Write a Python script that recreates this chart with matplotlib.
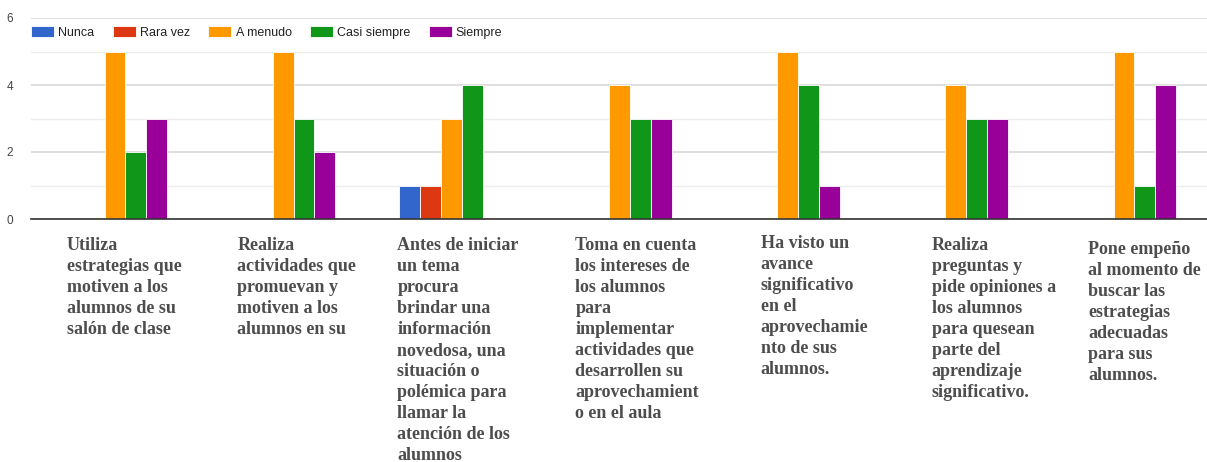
import matplotlib
matplotlib.use("Agg")
import matplotlib.pyplot as plt
import matplotlib.transforms as mtrans
import numpy as np

categories = [
    "Utiliza\nestrategias que\nmotiven a los\nalumnos de su\nsalón de clase",
    "Realiza\nactividades que\npromuevan y\nmotiven a los\nalumnos en su",
    "Antes de iniciar\nun tema\nprocura\nbrindar una\ninformación\nnovedosa, una\nsituación o\npolémica para\nllamar la\natención de los\nalumnos",
    "Toma en cuenta\nlos intereses de\nlos alumnos\npara\nimplementar\nactividades que\ndesarrollen su\naprovechamient\no en el aula",
    "Ha visto un\navance\nsignificativo\nen el\naprovechamie\nnto de sus\nalumnos.",
    "Realiza\npreguntas y\npide opiniones a\nlos alumnos\npara quesean\nparte del\naprendizaje\nsignificativo.",
    "Pone empeño\nal momento de\nbuscar las\nestrategias\nadecuadas\npara sus\nalumnos.",
]
series_names = ["Nunca", "Rara vez", "A menudo", "Casi siempre", "Siempre"]
nunca = [0, 0, 1, 0, 0, 0, 0]
rara_vez = [0, 0, 1, 0, 0, 0, 0]
a_menudo = [5, 5, 3, 4, 5, 4, 5]
casi_siempre = [2, 3, 4, 3, 4, 3, 1]
siempre = [3, 2, 0, 3, 1, 3, 4]
y_ticks = [0, 2, 4, 6]

colors = ["#3366cc", "#dc3912", "#ff9900", "#109618", "#990099"]
series = [nunca, rara_vez, a_menudo, casi_siempre, siempre]

W, H = 1207, 462
fig = plt.figure(figsize=(W / 100, H / 100), dpi=100)
ax = fig.add_axes([31 / W, 1 - 219 / H, 1177 / W, (219 - 18) / H])

x = np.arange(len(categories))
bw = 0.124
for i, (name, vals, c) in enumerate(zip(series_names, series, colors)):
    ax.bar(x + (i - 2) * bw, vals, width=bw, color=c, edgecolor="white",
           linewidth=0.6, label=name, zorder=3)

ax.set_xlim(-0.5, len(categories) - 0.5)
ax.set_ylim(0, 6)
ax.set_yticks(y_ticks)
ax.set_yticks([1, 3, 5], minor=True)
ax.grid(axis="y", which="major", color="#d9d9d9", linewidth=1.2, zorder=0)
ax.grid(axis="y", which="minor", color="#ececec", linewidth=1.0, zorder=0)
ax.tick_params(axis="y", which="both", length=0, labelsize=8.5, labelcolor="#444444", pad=13)
for t in ax.get_yticklabels():
    t.set_family("Liberation Sans")
ax.tick_params(axis="x", length=0, labelbottom=False)
for s in ["top", "right", "left"]:
    ax.spines[s].set_visible(False)
ax.spines["bottom"].set_color("#333333")
ax.spines["bottom"].set_linewidth(1.2)
ax.spines["bottom"].set_zorder(4)

leg = ax.legend(loc="upper left", bbox_to_anchor=(0.0, 0.958), ncol=5, frameon=False,
                borderaxespad=0, borderpad=0,
                prop={"family": "Liberation Sans", "size": 9},
                handlelength=1.84, handleheight=0.96, handletextpad=0.35,
                columnspacing=1.45, labelcolor="#222222")

label_offsets = [-0.286, -0.274, -0.321, -0.262, -0.161, -0.143, -0.214]
label_tops = [237, 237, 237, 237, 235, 237, 241]
trans = mtrans.blended_transform_factory(ax.transData, fig.transFigure)
for xi, lab, off, top in zip(x, categories, label_offsets, label_tops):
    ax.text(xi + off, 1 - top / H, lab, transform=trans, ha="left", va="top",
            fontsize=13, fontweight="bold", family="Liberation Serif",
            color="#4d4d4d", linespacing=1.31, clip_on=False)

fig.savefig("out.png", dpi=100)
